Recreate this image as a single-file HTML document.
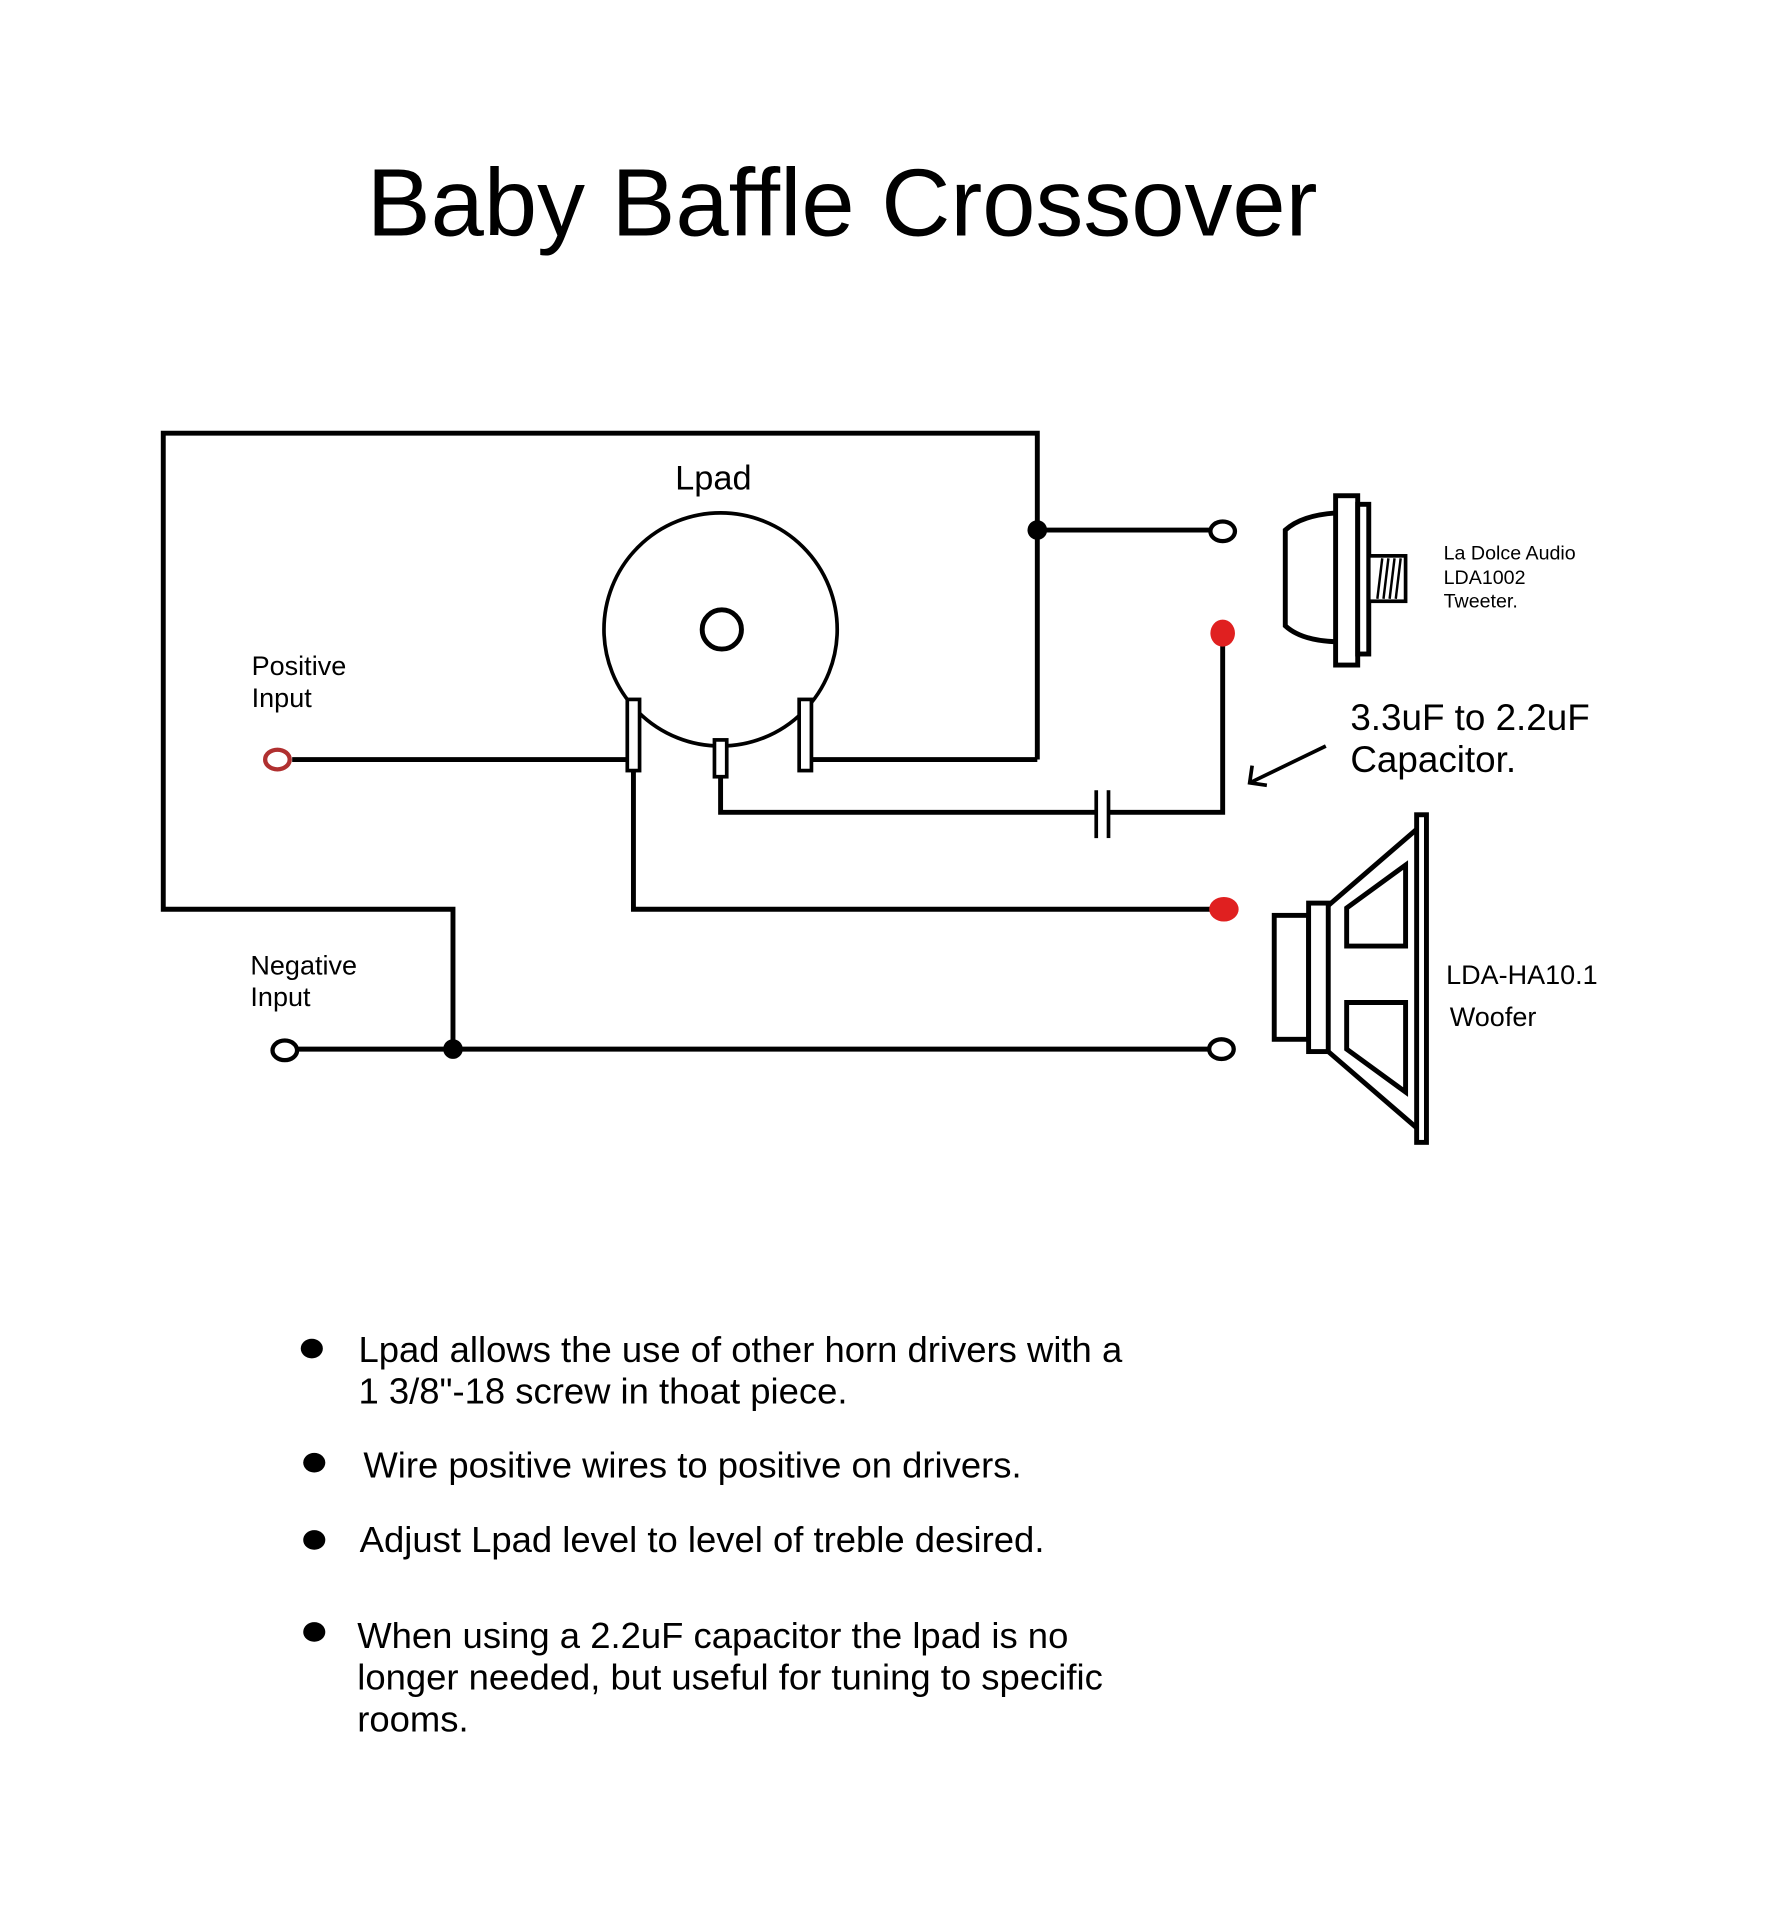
<!DOCTYPE html>
<html><head><meta charset="utf-8"><style>html,body{margin:0;padding:0;background:#fff}svg{display:block}</style></head>
<body>
<svg width="1780" height="1924" viewBox="0 0 1450 1568" preserveAspectRatio="none" xmlns="http://www.w3.org/2000/svg" font-family="'Liberation Sans', sans-serif">
<rect width="1450" height="1568" fill="#fff"/>
<text x="686" y="192" font-size="78" text-anchor="middle">Baby Baffle Crossover</text>
<g stroke="#000" stroke-width="4" fill="none">
<polyline points="845,619 660,619"/>
<polyline points="845,619 845,353 133,353 133,741 369,741 369,855"/>
<line x1="845" y1="432" x2="986" y2="432"/>
<circle cx="587" cy="513" r="95" stroke-width="3"/>
<circle cx="588" cy="513" r="16" stroke-width="4"/>
<line x1="238" y1="619" x2="511" y2="619"/>
<polyline points="516,628 516,741 986,741"/>
<polyline points="587,633 587,662 893,662"/>
<polyline points="903,662 996,662 996,516"/>
<line x1="893" y1="644" x2="893" y2="683" stroke-width="3"/>
<line x1="903" y1="644" x2="903" y2="683" stroke-width="3"/>
<line x1="243" y1="855" x2="985" y2="855"/>
<ellipse cx="996" cy="433" rx="10" ry="8" stroke-width="3.5"/>
<ellipse cx="995" cy="855" rx="10" ry="8" stroke-width="3.5"/>
<ellipse cx="232" cy="856" rx="10" ry="8" stroke-width="3.5"/>
</g>
<ellipse cx="226" cy="619" rx="10" ry="8" stroke="#b03030" stroke-width="3.5" fill="#fff"/>
<g fill="#fff" stroke="#000" stroke-width="3">
<rect x="511" y="570" width="10" height="58"/>
<rect x="582" y="603" width="10" height="30"/>
<rect x="651" y="570" width="10" height="58"/>
</g>
<circle cx="845" cy="432" r="8" fill="#000"/>
<circle cx="369" cy="855" r="8" fill="#000"/>
<ellipse cx="996" cy="516" rx="10" ry="11" fill="#e02020"/>
<ellipse cx="997" cy="741" rx="12" ry="10" fill="#e02020"/>
<g stroke="#000" stroke-width="4" fill="#fff">
<path d="M1088,418 Q1060,420 1047,432 L1047,510 Q1060,522 1088,523"/>
<rect x="1088" y="404" width="18" height="138"/>
<rect x="1106" y="411" width="9" height="122"/>
<rect x="1115" y="453" width="30" height="37" stroke-width="3"/>
</g>
<g stroke="#000" stroke-width="2">
<line x1="1122" y1="488" x2="1126" y2="455"/><line x1="1127" y1="488" x2="1131" y2="455"/><line x1="1132" y1="488" x2="1136" y2="455"/><line x1="1137" y1="488" x2="1141" y2="455"/>
</g>
<g font-size="16"><text x="1176" y="456">La Dolce Audio</text><text x="1176" y="476">LDA1002</text><text x="1176" y="495">Tweeter.</text></g>
<text x="1100" y="595" font-size="30">3.3uF to 2.2uF</text>
<text x="1100" y="629" font-size="30">Capacitor.</text>
<g stroke="#000" stroke-width="3" fill="none">
<line x1="1080" y1="608" x2="1018" y2="638"/>
<polyline points="1020,624 1018,638 1032,640"/>
</g>
<g stroke="#000" stroke-width="4" fill="#fff">
<rect x="1038" y="746" width="28" height="101"/>
<rect x="1066" y="736" width="16" height="121"/>
<polyline points="1082,738 1155,675" fill="none"/>
<polyline points="1082,857 1155,920" fill="none"/>
<path d="M1097,740 L1145,705 L1145,771 L1097,771 Z"/>
<path d="M1097,817 L1145,817 L1145,890 L1097,855 Z"/>
<rect x="1154" y="664" width="8" height="267"/>
</g>
<text x="1178" y="802" font-size="22">LDA-HA10.1</text>
<text x="1181" y="836" font-size="22">Woofer</text>
<text x="550" y="399" font-size="28">Lpad</text>
<g font-size="22"><text x="205" y="550">Positive</text><text x="205" y="576">Input</text><text x="204" y="794">Negative</text><text x="204" y="820">Input</text></g>
<g fill="#000"><ellipse cx="254" cy="1099" rx="9" ry="8"/><ellipse cx="256" cy="1192" rx="9" ry="8"/><ellipse cx="256" cy="1255" rx="9" ry="8"/><ellipse cx="256" cy="1330" rx="9" ry="8"/></g>
<g font-size="29.7">
<text x="292" y="1110">Lpad allows the use of other horn drivers with a</text>
<text x="292" y="1144">1 3/8"-18 screw in thoat piece.</text>
<text x="296" y="1204">Wire positive wires to positive on drivers.</text>
<text x="293" y="1265">Adjust Lpad level to level of treble desired.</text>
<text x="291" y="1343">When using a 2.2uF capacitor the lpad is no</text>
<text x="291" y="1377">longer needed, but useful for tuning to specific</text>
<text x="291" y="1411">rooms.</text>
</g>
</svg>
</body></html>
